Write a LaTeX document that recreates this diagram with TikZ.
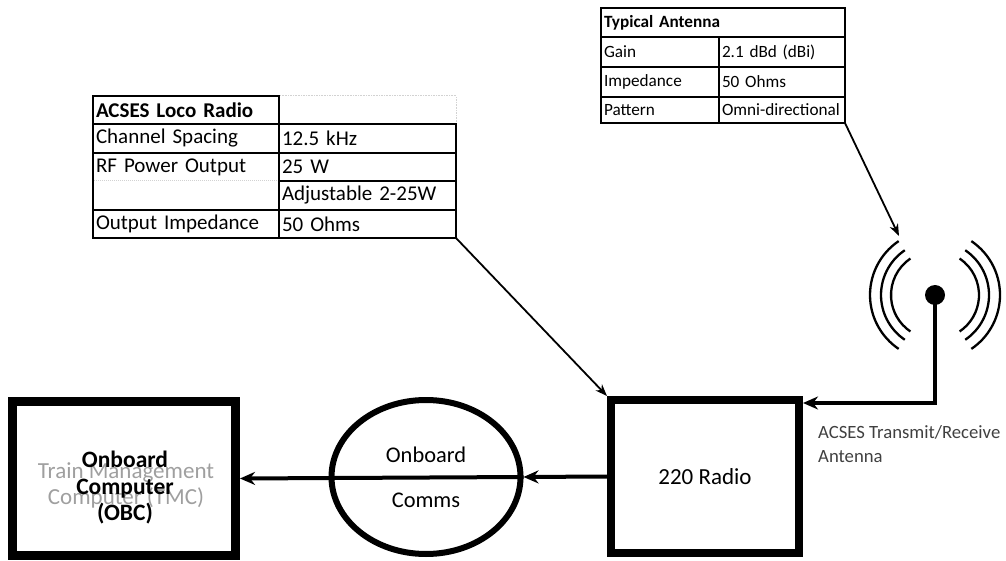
\documentclass[tikz,border=0pt]{standalone}
\usepackage{fontspec}
\setmainfont{Carlito}
\usetikzlibrary{shapes.geometric,arrows.meta,calc}
\begin{document}
\begin{tikzpicture}[x=1pt,y=-1pt,
 cell/.style={draw, line width=1.6pt, anchor=north west, inner xsep=3pt, inner ysep=0pt, outer sep=0pt, align=left, font=\fontsize{21}{24}\selectfont},
 acell/.style={draw, line width=1.3pt, anchor=north west, inner xsep=3pt, inner ysep=0pt, outer sep=0pt, align=left, font=\fontsize{17.2}{20}\selectfont},
 block/.style={draw, rectangle, inner sep=0pt},
 thinarrow/.style={line width=1.8pt, -{Stealth[length=12pt,width=9pt]}},
 thickarrow/.style={line width=4pt, -{Stealth[length=15pt,width=13pt]}},
 wave/.style={line width=2.3pt},
]
\useasboundingbox (0,0) rectangle (1006,561);

% ACSES Loco Radio table
\node[cell, draw=gray!35, densely dotted, line width=1pt, text width=171pt, minimum height=28pt] (lt2) at (279,96) {};
\node[cell, text width=180pt, minimum height=28pt] (lt) at (93,96) {\textbf{ACSES Loco Radio}};
\node[cell, text width=180pt, minimum height=29pt] (r1a) at (93,124) {Channel Spacing};
\node[cell, text width=171pt, minimum height=29pt] (r1b) at (279,124) {12.5 kHz};
\node[cell, text width=180pt, minimum height=28pt] (r2a) at (93,153) {RF Power Output};
\node[cell, text width=171pt, minimum height=28pt] (r2b) at (279,153) {25 W};
\node[cell, text width=180pt, minimum height=29pt] (r3a) at (93,181) {};
\node[cell, text width=171pt, minimum height=29pt] (r3b) at (279,181) {Adjustable 2-25W};
\node[cell, text width=180pt, minimum height=28pt] (r4a) at (93,210) {Output Impedance};
\node[cell, text width=171pt, minimum height=28pt] (r4b) at (279,210) {50 Ohms};
\draw[white, line width=2.4pt, shorten <=1.2pt, shorten >=1.2pt] (r3a.north west) -- (r3a.north east);
\draw[gray!35, densely dotted, line width=1pt, shorten <=1.2pt, shorten >=1.2pt] (r3a.north west) -- (r3a.north east);

% Typical Antenna table
\node[acell, text width=238pt, minimum height=29pt] (at) at (601,8) {\textbf{Typical Antenna}};
\node[acell, text width=112pt, minimum height=30pt] (a1a) at (601,37) {Gain};
\node[acell, text width=120pt, minimum height=30pt] (a1b) at (719,37) {2.1 dBd (dBi)};
\node[acell, text width=112pt, minimum height=30pt] (a2a) at (601,67) {Impedance};
\node[acell, text width=120pt, minimum height=30pt] (a2b) at (719,67) {50 Ohms};
\node[acell, text width=112pt, minimum height=26pt] (a3a) at (601,97) {Pattern};
\node[acell, text width=120pt, minimum height=26pt] (a3b) at (719,97) {Omni-directional};

% Blocks
\node[block, line width=8pt, minimum width=188pt, minimum height=153pt, font=\fontsize{23}{27}\selectfont] (radio) at (705,476.5) {220 Radio};
\node[ellipse, draw, line width=6pt, minimum width=189pt, minimum height=154pt, inner sep=0pt, align=center, font=\fontsize{22.4}{45}\selectfont] (comms) at (426,477) {Onboard\\Comms};
\node[block, line width=9pt, minimum width=223pt, minimum height=154pt] (obc) at (124,478.5) {};
\node[text=gray!75, align=center, font=\fontsize{23}{26}\selectfont] (tmc) at (126,485) {Train Management\\Computer (TMC)};
\node[align=center, font=\bfseries\fontsize{23.5}{26.5}\selectfont] (obctext) at (125,488) {Onboard\\Computer\\(OBC)};

% Antenna symbol
\node[circle, fill, inner sep=0pt, minimum size=20pt] (dot) at (935,295) {};
\foreach \r in {44,54,65} {
  \draw[wave] ($(dot.center)+(124:\r pt)$) arc[start angle=124, end angle=236, radius=\r pt];
  \draw[wave] ($(dot.center)+(56:\r pt)$) arc[start angle=56, end angle=-56, radius=\r pt];
}
\node[anchor=north west, inner sep=0pt, align=left, text=black!75, font=\fontsize{18.7}{24}\selectfont] (lbl) at (818,425) {ACSES Transmit/Receive\\Antenna};

% Connectors
\coordinate (atip) at (899,236);
\draw[thinarrow] (r4b.south east) -- (radio.north west);
\draw[thinarrow] (a3b.south east) -- (atip);
\draw[thickarrow] (dot.center) |- ([yshift=-7pt]radio.north east);
\draw[thickarrow] (radio.west) -- (comms.east);
\draw[thickarrow] (comms.east) -- (obc.east);
\end{tikzpicture}
\end{document}
